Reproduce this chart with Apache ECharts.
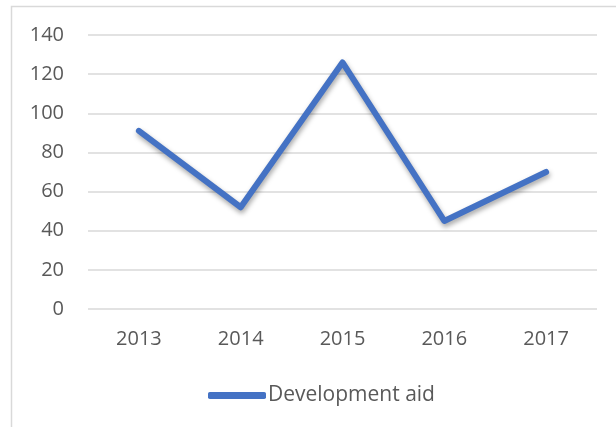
<!DOCTYPE html>
<html>
<head>
<meta charset="utf-8">
<script src="https://cdn.jsdelivr.net/npm/echarts@6/dist/echarts.min.js"></script>
<style>
html,body{margin:0;padding:0;background:#fff;}
#c{width:616px;height:427px;}
</style>
</head>
<body>
<div id="c"></div>
<script>
const categories = ['2013', '2014', '2015', '2016', '2017'];
const seriesName = 'Development aid';
const values = [91, 52, 126, 45, 70];
const yTicks = { min: 0, max: 140, interval: 20 };

const chart = echarts.init(document.getElementById('c'), null, { renderer: 'canvas' });
const font = '"Open Sans", "Noto Sans", sans-serif';
chart.setOption({
  animation: false,
  backgroundColor: '#ffffff',
  textStyle: { fontFamily: font },
  graphic: [{
    type: 'polyline',
    shape: { points: [[11.5, 427], [11.5, 6.5], [616, 6.5]] },
    style: { stroke: '#d9d9d9', lineWidth: 1.5, fill: null },
    silent: true
  }],
  grid: { left: 88, right: 19, top: 35, bottom: 118, containLabel: false },
  legend: {
    data: [{ name: seriesName, icon: 'roundRect' }],
    left: 203,
    top: 380,
    itemWidth: 58,
    itemHeight: 7,
    itemGap: 10,
    textStyle: { color: '#595959', fontSize: 21, fontFamily: font, padding: [0, 0, 0, -3] }
  },
  xAxis: {
    type: 'category',
    data: categories,
    boundaryGap: true,
    axisLine: { show: false },
    axisTick: { show: false },
    splitLine: { show: false },
    axisLabel: { color: '#595959', fontSize: 20, fontFamily: font, margin: 20 }
  },
  yAxis: {
    type: 'value',
    min: yTicks.min,
    max: yTicks.max,
    interval: yTicks.interval,
    axisLine: { show: false },
    axisTick: { show: false },
    splitLine: { lineStyle: { color: '#d9d9d9', width: 1.5 } },
    axisLabel: { color: '#595959', fontSize: 20, fontFamily: font, margin: 24 }
  },
  series: [{
    name: seriesName,
    type: 'line',
    data: values,
    symbol: 'none',
    lineStyle: {
      color: '#4472c4',
      width: 6,
      cap: 'round',
      join: 'round',
      shadowColor: 'rgba(0,0,0,0.35)',
      shadowBlur: 5,
      shadowOffsetX: 1,
      shadowOffsetY: 3
    },
    itemStyle: { color: '#4472c4' }
  }]
});
</script>
</body>
</html>
